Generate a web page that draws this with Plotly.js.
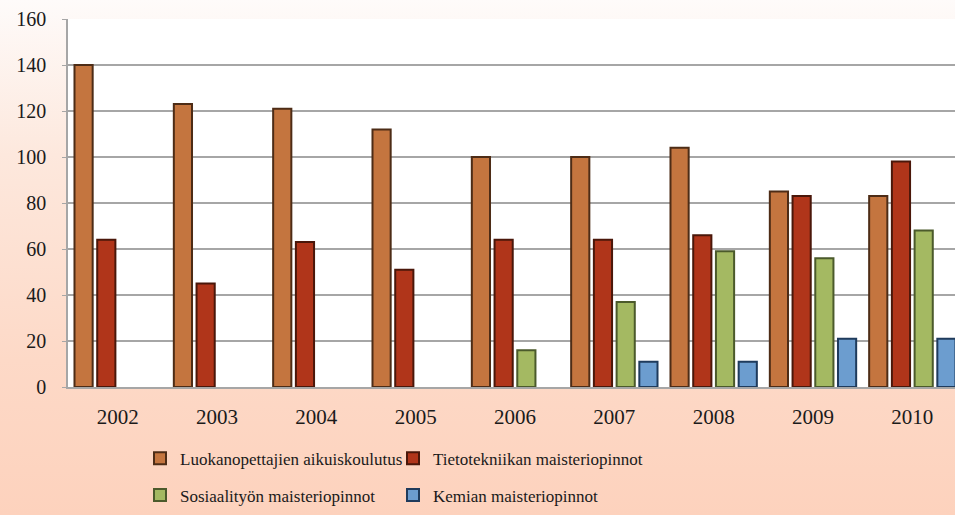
<!DOCTYPE html>
<html>
<head>
<meta charset="utf-8">
<script src="https://cdn.plot.ly/plotly-3.0.1.min.js"></script>
<style>
  html, body { margin: 0; padding: 0; overflow: hidden; width: 955px; height: 515px; }
  #chart {
    width: 962px; height: 515px;
    background: linear-gradient(180deg, #fefbfa 0%, #fde8dd 30%, #fdd9c7 70%, #fdd2bd 100%);
  }
</style>
</head>
<body>
<div id="chart"></div>
<script>
const years = ['2002', '2003', '2004', '2005', '2006', '2007', '2008', '2009', '2010'];
const seriesNames = [
  'Luokanopettajien aikuiskoulutus',
  'Tietotekniikan maisteriopinnot',
  'Sosiaalityön maisteriopinnot',
  'Kemian maisteriopinnot'
];
const luokanopettajat = [140, 123, 121, 112, 100, 100, 104, 85, 83];
const tietotekniikka  = [64, 45, 63, 51, 64, 64, 66, 83, 98];
const sosiaalityo     = [null, null, null, null, 16, 37, 59, 56, 68];
const kemia           = [null, null, null, null, null, 11, 11, 21, 21];
const yTicks = [0, 20, 40, 60, 80, 100, 120, 140, 160];

const fills   = ['#c4753f', '#b0351a', '#a4b962', '#6c9dcf'];
const borders = ['#4d2c16', '#4a170a', '#4b5a2b', '#1f3b5c'];
const values  = [luokanopettajat, tietotekniikka, sosiaalityo, kemia];
const legendIds = ['legend', 'legend2', 'legend3', 'legend4'];

const traces = values.map((v, i) => ({
  type: 'bar',
  name: seriesNames[i],
  x: years,
  y: v,
  marker: { color: fills[i], line: { color: borders[i], width: 2 } },
  legend: legendIds[i],
  hoverinfo: 'x+y+name'
}));

const legendFont = { family: 'Liberation Serif, serif', size: 17, color: '#1a1a1a' };
const plotLeft = 68, plotWidth = 894;
const col1 = (140 - plotLeft) / plotWidth;
const col2 = (393 - plotLeft) / plotWidth;
const row1 = -0.146, row2 = -0.246;

function leg(x, y) {
  return {
    orientation: 'h', x: x, xanchor: 'left', y: y, yanchor: 'top',
    bgcolor: 'rgba(0,0,0,0)', font: legendFont
  };
}

const layout = {
  width: 962,
  height: 515,
  margin: { l: 68, r: 0, t: 19, b: 128 },
  paper_bgcolor: 'rgba(0,0,0,0)',
  plot_bgcolor: '#ffffff',
  barmode: 'group',
  bargap: 0.085,
  bargroupgap: 0.2,
  showlegend: true,
  xaxis: {
    type: 'category',
    showgrid: false,
    showline: true,
    linecolor: '#a6a6a6',
    linewidth: 1.5,
    ticks: '',
    ticklabelstandoff: 10,
    tickfont: { family: 'Liberation Serif, serif', size: 21, color: '#1a1a1a' }
  },
  yaxis: {
    range: [0, 160],
    tickvals: yTicks,
    showgrid: true,
    gridcolor: '#a6a6a6',
    gridwidth: 1.5,
    zeroline: false,
    showline: true,
    linecolor: '#a6a6a6',
    linewidth: 1.5,
    ticks: 'outside',
    ticklen: 4,
    tickcolor: '#a6a6a6',
    ticklabelstandoff: 12,
    tickfont: { family: 'Liberation Serif, serif', size: 20, color: '#1a1a1a' }
  },
  legend: leg(col1, row1),
  legend2: leg(col2, row1),
  legend3: leg(col1, row2),
  legend4: leg(col2, row2)
};

Plotly.newPlot('chart', traces, layout, { displayModeBar: false, responsive: false });
</script>
</body>
</html>
